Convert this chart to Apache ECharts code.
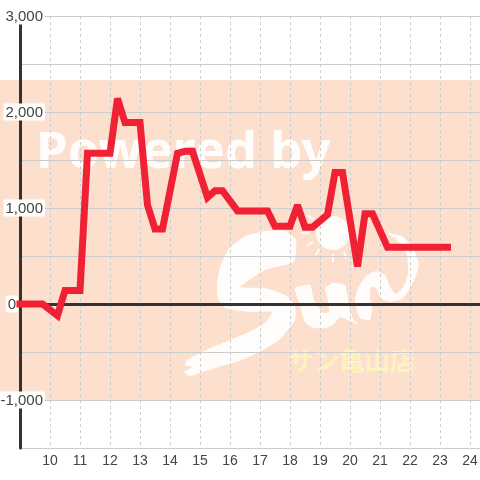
<!DOCTYPE html>
<html>
<head>
<meta charset="utf-8">
<style>
html, body { margin: 0; padding: 0; background: #fff; }
#chart { width: 480px; height: 480px; }
</style>
<script src="https://cdn.jsdelivr.net/npm/echarts@6/dist/echarts.min.js"></script>
</head>
<body>
<div id="chart"></div>
<script>
// hour of day / value at each corner of the line
const hours = [9, 9.75, 10.25, 10.5, 11, 11.25, 12, 12.25, 12.5, 13, 13.25, 13.5, 13.75, 14.25, 14.5, 14.75, 15.25, 15.5, 15.75, 16.25, 17.25, 17.5, 18, 18.25, 18.5, 18.75, 19.25, 19.5, 19.75, 20.25, 20.5, 20.75, 21.25, 23.25];
const values = [0, 0, -120, 140, 140, 1570, 1570, 2140, 1890, 1890, 1030, 780, 780, 1570, 1590, 1590, 1110, 1180, 1180, 970, 970, 810, 810, 1030, 800, 800, 930, 1370, 1370, 390, 940, 940, 590, 590];
const xTicks = [10, 11, 12, 13, 14, 15, 16, 17, 18, 19, 20, 21, 22, 23, 24];
const yTicks = [-1000, 0, 1000, 2000, 3000];

const chart = echarts.init(document.getElementById('chart'));

const white = 'rgba(255,255,255,0.93)';
const font = '"Liberation Sans", Arial, sans-serif';

// background logo outlines, traced by hand
const logoS = [[184, 372], [192, 367], [185, 365], [187, 360], [213, 347], [247, 333], [265, 323], [272, 312], [250, 312], [225, 308], [218, 298], [217, 285], [220, 268], [228, 250], [245, 236], [265, 231], [285, 231], [296, 240], [294, 262], [265, 270], [240, 287], [265, 288], [285, 295], [295, 305], [295, 320], [278, 341], [247, 358], [215, 368], [190, 376]];
const logoU = [[295, 288], [310, 285], [314, 300], [323, 313], [329, 312], [328, 300], [325, 288], [333, 283], [345, 285], [349, 305], [352, 317], [358, 325], [350, 321], [340, 317], [334, 324], [327, 328], [313, 328], [305, 322], [300, 305]];
const logoN = [[355, 303], [358, 288], [366, 276], [376, 271], [385, 275], [390, 287], [396, 294], [404, 286], [408, 273], [407, 255], [397, 240], [387, 233], [402, 236], [413, 248], [419, 265], [413, 283], [403, 298], [390, 302], [381, 298], [376, 288], [371, 287], [370, 298], [372, 308], [370, 320], [360, 318]];
const sunRays = [[[307, 215], [313, 219]], [[301, 233], [310, 233]], [[307, 246], [313, 242]], [[316, 255], [319, 249]], [[333, 262], [333, 254]], [[346, 258], [344, 252]]];

chart.setOption({
    animation: false,
    grid: { left: 20, right: 0, top: 16, bottom: 32, outerBoundsMode: 'none' },
    // the background picture: band, "Powered by" and the shop logo
    graphic: [
        { type: 'rect', z: -20, shape: { x: 0, y: 80, width: 480, height: 320 }, style: { fill: '#fce0cd' } },
        { type: 'text', z: -10, x: 36, y: 153, style: { text: 'Powered by', fill: white, font: '700 51px "Noto Sans"', verticalAlign: 'middle' } },
        { type: 'polygon', z: -10, shape: { points: logoS, smooth: 0.15 }, style: { fill: white } },
        { type: 'polygon', z: -10, shape: { points: logoU, smooth: 0.15 }, style: { fill: white } },
        { type: 'polygon', z: -10, shape: { points: logoN, smooth: 0.15 }, style: { fill: white } },
        { type: 'circle', z: -10, shape: { cx: 333, cy: 233, r: 17 }, style: { fill: white } },
        ...sunRays.map(r => ({ type: 'polyline', z: -10, shape: { points: r }, style: { fill: 'none', stroke: white, lineWidth: 2 } })),
        { type: 'text', z: -10, x: 288, y: 360, style: { text: 'サン亀山店', fill: '#fdf3bf', font: '700 25.5px "Noto Sans CJK JP"', verticalAlign: 'middle' } }
    ],
    xAxis: [
        {
            type: 'value',
            min: 9,
            max: 24.3333,
            interval: 1,
            axisLine: { onZero: false, show: false },
            axisTick: { show: false },
            axisLabel: {
                customValues: xTicks,
                color: '#444',
                fontSize: 14,
                fontFamily: font,
                margin: 6
            },
            splitLine: {
                show: true,
                showMinLine: false,
                showMaxLine: false,
                lineStyle: { color: '#ccc', type: [3, 3], width: 1 }
            }
        },
        {
            // only the heavy line at zero
            type: 'value',
            min: 9,
            max: 24.3333,
            axisLine: { onZero: true, lineStyle: { color: '#333', width: 3 } },
            axisTick: { show: false },
            axisLabel: { show: false },
            splitLine: { show: false }
        }
    ],
    yAxis: {
        type: 'value',
        min: -1500,
        max: 3000,
        interval: 500,
        axisLine: { show: true, lineStyle: { color: '#333', width: 3 } },
        axisTick: { show: false },
        axisLabel: {
            customValues: yTicks,
            inside: true,
            align: 'right',
            margin: 25,
            formatter: v => v === 0 ? '{b|0}{s|}' : '{b|' + v.toLocaleString('en-US') + '}',
            rich: {
                b: { backgroundColor: '#fff', color: '#444', fontSize: 15, fontFamily: font, lineHeight: 13, padding: [2, 2, 0, 2] },
                s: { width: 27 }
            }
        },
        splitLine: { show: true, lineStyle: { color: '#ccc', width: 1 } }
    },
    series: [{
        type: 'line',
        data: hours.map((h, i) => [h, values[i]]),
        symbol: 'none',
        clip: false,
        lineStyle: { color: '#f02035', width: 7, cap: 'square', join: 'miter', miterLimit: 3 }
    }]
});
</script>
</body>
</html>
